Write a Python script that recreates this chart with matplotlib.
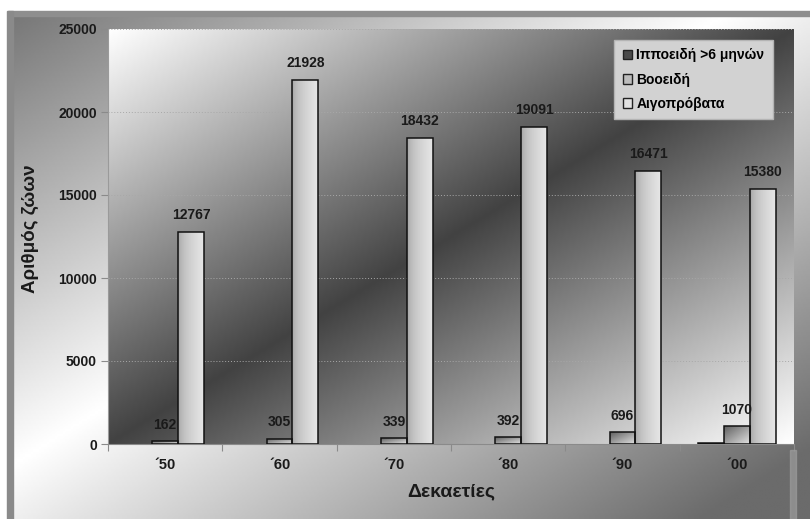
import numpy as np
import matplotlib
matplotlib.use('Agg')
import matplotlib.pyplot as plt
from matplotlib.patches import Patch, Rectangle

decades = ['´50', '´60', '´70', '´80', '´90', '´00']
horses = [np.nan, np.nan, np.nan, np.nan, np.nan, 80]
cattle = [162, 305, 339, 392, 696, 1070]
goats_sheep = [12767, 21928, 18432, 19091, 16471, 15380]
series_names = ['Ιπποειδή >6 μηνών', 'Βοοειδή', 'Αιγοπρόβατα']
y_ticks = [0, 5000, 10000, 15000, 20000, 25000]

plt.rcParams['font.family'] = ['Liberation Sans', 'DejaVu Sans']
plt.rcParams['font.weight'] = 'bold'

W, H = 810, 519
fig = plt.figure(figsize=(W / 100, H / 100), dpi=100)
fig.patch.set_facecolor('white')

# outer panel gradient (light along the diagonal, darker corners)
bg = fig.add_axes([8 / W, 0, 802 / W, 1 - 11 / H], zorder=0)
u, v = np.meshgrid(np.linspace(0, 1, 300), np.linspace(0, 1, 200))
t = (u + v) / 2
outer = np.clip(1 - 1.2 * np.abs(t - 0.45), 0.42, 1)
bg.imshow(outer, cmap='gray', vmin=0, vmax=1, aspect='auto', extent=[0, 1, 0, 1])
bg.set_axis_off()
fig.add_artist(Rectangle((8 / W, 1 - 16 / H), 802 / W, 5 / H,
                         transform=fig.transFigure, color='#8e8e8e', zorder=5))
fig.add_artist(Rectangle((7 / W, 0), 6 / W, 1 - 11 / H,
                         transform=fig.transFigure, color='#8a8a8a', zorder=5))
fig.add_artist(Rectangle((790 / W, 0), 6 / W, 69 / H,
                         transform=fig.transFigure, color='#9c9c9c', alpha=0.7, zorder=5))

rect = [108 / W, 1 - 444 / H, 686 / W, 415 / H]

# plot area gradient (white corners, dark band across)
pbg = fig.add_axes(rect, zorder=1)
inner = 0.26 + 0.74 * np.abs(2 * t - 1)
pbg.imshow(inner, cmap='gray', vmin=0, vmax=1, aspect='auto', extent=[0, 1, 0, 1])
pbg.set_axis_off()

ax = fig.add_axes(rect, zorder=2)
ax.patch.set_alpha(0)

x = np.arange(len(decades))
w = 0.227

ax.set_axisbelow(True)
ax.yaxis.grid(True, color='#a8a8a8', linestyle=(0, (1, 2)), linewidth=0.7)

b1 = ax.bar(x - w, horses, w, facecolor='#2a2a2a', edgecolor='#111111', linewidth=1.1, zorder=3)
b2 = ax.bar(x, cattle, w, facecolor='none', edgecolor='#111111', linewidth=1.1, zorder=3)
b3 = ax.bar(x + w, goats_sheep, w, facecolor='none', edgecolor='#111111', linewidth=1.1, zorder=3)

gu, gr = np.meshgrid(np.linspace(0, 1, 40), np.linspace(0, 1, 40))
cattle_grad = 0.38 + 0.5 * (gu + gr) / 2
goat_grad = 0.62 + 0.28 * np.sqrt(gu)

for bars, grad in ((b2, cattle_grad), (b3, goat_grad)):
    for bar in bars:
        x0, h = bar.get_x(), bar.get_height()
        im = ax.imshow(grad, cmap='gray', vmin=0, vmax=1, aspect='auto',
                       extent=[x0, x0 + bar.get_width(), 0, h], zorder=2.5)
        im.set_clip_path(bar)

for bars, vals in ((b2, cattle), (b3, goats_sheep)):
    for bar, val in zip(bars, vals):
        ax.annotate(str(val), (bar.get_x() + bar.get_width() / 2, bar.get_height()),
                    xytext=(0, 7), textcoords='offset points', ha='center', va='bottom',
                    fontsize=10, fontweight='bold', color='#1a1a1a', zorder=4)

ax.set_xlim(-0.5, len(decades) - 0.5)
ax.set_ylim(0, 25000)
ax.set_yticks(y_ticks)
ax.set_yticklabels([str(v) for v in y_ticks])
ax.set_xticks(x)
ax.set_xticklabels(decades)
ax.set_xticks(np.arange(-0.5, len(decades)), minor=True)
ax.tick_params(axis='x', which='major', length=0, pad=10, labelsize=10.5, labelcolor='#1a1a1a')
ax.tick_params(axis='x', which='minor', length=5, color='#8a8a8a', width=0.8)
ax.tick_params(axis='y', length=5, color='#8a8a8a', width=0.8, pad=3,
               labelsize=10, labelcolor='#1a1a1a')

for s in ('top', 'right'):
    ax.spines[s].set_visible(False)
ax.spines['left'].set_color('#9a9a9a')
ax.spines['bottom'].set_color('#8a8a8a')

ax.set_ylabel('Αριθμός ζώων', fontsize=13.5, fontweight='bold', color='#1a1a1a')
ax.yaxis.set_label_coords(-0.1, 0.52)
ax.set_xlabel('Δεκαετίες', fontsize=14, fontweight='bold', color='#1a1a1a', labelpad=8)

handles = [Patch(facecolor='#4a4a4a', edgecolor='#222222'),
           Patch(facecolor='#bdbdbd', edgecolor='#222222'),
           Patch(facecolor='#e2e2e2', edgecolor='#222222')]
leg = ax.legend(handles, series_names, loc='upper right', bbox_to_anchor=(0.969, 0.9735),
                borderaxespad=0, fancybox=False, framealpha=1, facecolor='#d2d2d2',
                edgecolor='#b4b4b4', handlelength=0.7, handleheight=0.7,
                handletextpad=0.3, labelspacing=0.75, borderpad=0.6,
                prop={'size': 10, 'weight': 'bold'})
leg.set_zorder(5)

fig.savefig('out.png', dpi=100, facecolor=fig.get_facecolor())
